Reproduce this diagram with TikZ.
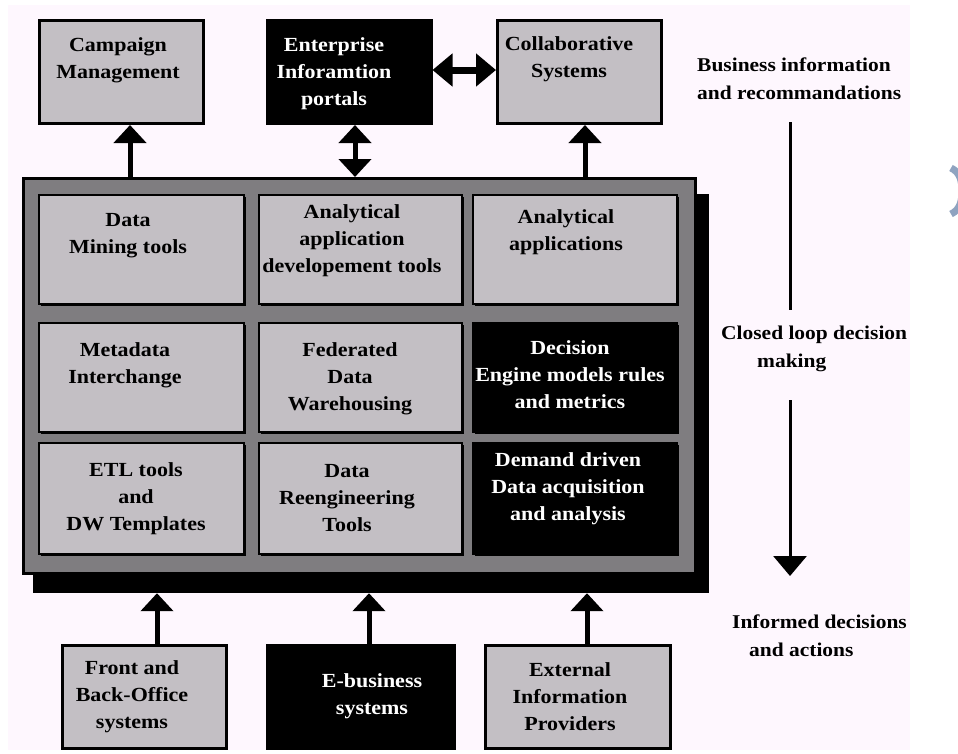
\documentclass[tikz,border=0pt]{standalone}
\usepackage{fontspec}
\setmainfont{Liberation Serif}[FakeStretch=1.1]
\usetikzlibrary{arrows.meta,shadows}
\definecolor{bgpink}{RGB}{254,247,254}
\definecolor{cellgray}{RGB}{195,191,196}
\definecolor{outergray}{RGB}{127,125,128}
\definecolor{chevblue}{RGB}{143,163,192}
\tikzset{
  txt/.style={inner sep=0pt, align=center, font=\bfseries\fontsize{20}{27}\selectfont},
  wtxt/.style={txt, text=white},
  rtxt/.style={inner sep=0pt, align=left, anchor=west, font=\bfseries\fontsize{19.5}{28}\selectfont},
  topbox/.style={draw=black, line width=3pt, minimum width=164pt, minimum height=103pt},
  cellbox/.style={draw=black, line width=2pt, general shadow={fill=black, shadow xshift=2pt, shadow yshift=-2pt}},
  lightfill/.style={fill=cellgray},
  darkfill/.style={fill=black},
  arr/.style={line width=5pt, -{Triangle[width=32pt,length=18pt]}},
  darr/.style={line width=5pt, {Triangle[width=32pt,length=18pt]}-{Triangle[width=32pt,length=18pt]}},
  harr/.style={line width=7pt, {Triangle[width=32pt,length=20pt]}-{Triangle[width=32pt,length=20pt]}},
  vline/.style={line width=3pt},
  varr/.style={line width=3pt, -{Triangle[width=33pt,length=20pt]}}
}
\begin{document}
\begin{tikzpicture}[x=1pt,y=-1pt]
\useasboundingbox (0,0) rectangle (958,753);
\fill[white] (0,0) rectangle (958,753);
\fill[bgpink] (8,5) rectangle (910,750);
% partial chevron at right edge
\begin{scope}
\clip (0,0) rectangle (958,753);
\draw[chevblue, line width=7pt] (951,168) to[out=-25,in=90] (962,191) to[out=-90,in=25] (951,214);
\end{scope}

% top boxes
\node[topbox, lightfill] (cm) at (121.5,72) {};
\node[topbox, darkfill] (ei) at (349,72) {};
\node[topbox, lightfill] (cs) at (579.5,72) {};
\node[txt] (cmt) at (118,60) {Campaign\\Management};
\node[wtxt] (eit) at (334,74) {Enterprise\\Inforamtion\\portals};
\node[txt] (cst) at (569,59.5) {Collaborative\\Systems};

% main box with shadow
\node[fill=black, minimum width=676pt, minimum height=399pt, inner sep=0pt] (shd) at (371,393.5) {};
\node[fill=outergray, draw=black, line width=3pt, minimum width=672pt, minimum height=395pt, inner sep=0pt] (main) at (359.5,376) {};

% cells
\node[cellbox, lightfill, minimum width=205pt, minimum height=109pt] (c11) at (141.5,249.5) {};
\node[cellbox, lightfill, minimum width=203pt, minimum height=109pt] (c12) at (360.5,249.5) {};
\node[cellbox, lightfill, minimum width=204pt, minimum height=109pt] (c13) at (575,249.5) {};
\node[cellbox, lightfill, minimum width=205pt, minimum height=109pt] (c21) at (141.5,377.5) {};
\node[cellbox, lightfill, minimum width=203pt, minimum height=109pt] (c22) at (360.5,377.5) {};
\node[cellbox, darkfill, minimum width=204pt, minimum height=109pt] (c23) at (575,377.5) {};
\node[cellbox, lightfill, minimum width=205pt, minimum height=111pt] (c31) at (141.5,498.5) {};
\node[cellbox, lightfill, minimum width=203pt, minimum height=111pt] (c32) at (360.5,498.5) {};
\node[cellbox, darkfill, minimum width=204pt, minimum height=111pt] (c33) at (575,498.5) {};

\node[txt] (t11) at (128,236) {Data\\Mining tools};
\node[txt] (t12) at (352,241) {Analytical\\application\\developement tools};
\node[txt] (t13) at (566,232.5) {Analytical\\applications};
\node[txt] (t21) at (125,365) {Metadata\\Interchange};
\node[txt] (t22) at (350,378.5) {Federated\\Data\\Warehousing};
\node[wtxt] (t23) at (570,374.5) {Decision\\Engine models rules\\and metrics};
\node[txt] (t31) at (136,498.5) {ETL tools\\and\\DW Templates};
\node[txt] (t32) at (347,498.5) {Data\\Reengineering\\Tools};
\node[wtxt] (t33) at (568,489) {Demand driven\\Data acquisition\\and analysis};

% bottom boxes
\node[topbox, lightfill] (fb) at (144.5,697) {};
\node[topbox, darkfill, minimum width=187pt] (eb) at (361,697) {};
\node[topbox, lightfill, minimum width=185pt] (ex) at (578,697) {};
\node[txt] (fbt) at (132,697) {Front and\\Back-Office\\systems};
\node[wtxt] (ebt) at (372,696) {E-business\\systems};
\node[txt] (ext) at (570,697) {External\\Information\\Providers};

% arrows top
\draw[arr] ([xshift=8.5pt]cm.south |- main.north) -- ([xshift=8.5pt]cm.south);
\draw[darr] ([xshift=6pt]ei.south) -- ([xshift=6pt]ei.south |- main.north);
\draw[arr] ([xshift=5.5pt]cs.south |- main.north) -- ([xshift=5.5pt]cs.south);
\draw[harr] ([yshift=2pt]ei.east) -- ([yshift=2pt]cs.west);

% arrows bottom
\draw[arr] ([xshift=12.5pt]fb.north) -- ([xshift=12.5pt]fb.north |- shd.south);
\draw[arr] ([xshift=8pt]eb.north) -- ([xshift=8pt]eb.north |- shd.south);
\draw[arr] ([xshift=9pt]ex.north) -- ([xshift=9pt]ex.north |- shd.south);

% right side
\node[rtxt] (biz) at (697,79) {Business information\\and recommandations};
\node[rtxt] (clo) at (721,349) {Closed loop decision\\\hspace*{36pt}making};
\node[rtxt] (inf) at (732,636) {Informed decisions\\\hspace*{17pt}and actions};
\coordinate (v1) at (790,122);
\coordinate (v2) at (790,310);
\coordinate (v3) at (790,400);
\coordinate (v4) at (790,576);
\draw[vline] (v1) -- (v2);
\draw[varr] (v3) -- (v4);
\end{tikzpicture}
\end{document}
